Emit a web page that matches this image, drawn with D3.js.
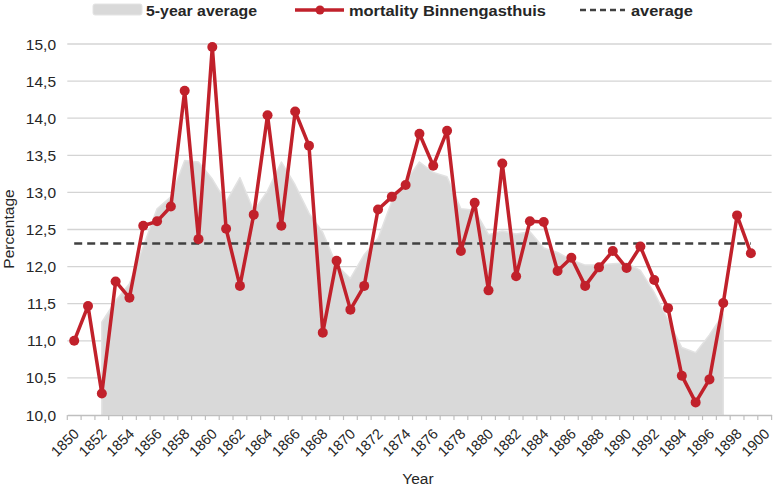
<!DOCTYPE html>
<html>
<head>
<meta charset="utf-8">
<script src="https://cdn.jsdelivr.net/npm/d3@7/dist/d3.min.js"></script>
<style>
  html, body { margin: 0; padding: 0; background: #ffffff; }
  svg { display: block; font-family: "Liberation Sans", Arial, sans-serif; }
</style>
</head>
<body>
<svg id="chart" width="774" height="488"></svg>
<script>
// ---- data ----
const categories = d3.range(1850, 1901);           // x categories (1850–1900)
const mortalityYears = d3.range(1850, 1900);       // years with data
const mortality = [11.00, 11.47, 10.29, 11.80, 11.58, 12.55, 12.61, 12.81, 14.37, 12.37,
                   14.96, 12.51, 11.74, 12.70, 14.04, 12.55, 14.09, 13.63, 11.11, 12.08,
                   11.42, 11.74, 12.77, 12.94, 13.10, 13.79, 13.36, 13.83, 12.21, 12.86,
                   11.68, 13.39, 11.87, 12.61, 12.60, 11.94, 12.12, 11.74, 11.99, 12.21,
                   11.98, 12.27, 11.82, 11.44, 10.53, 10.17, 10.48, 11.51, 12.69, 12.18];
const avgYears = d3.range(1852, 1898);
const fiveYearAvg = [11.25, 11.54, 11.77, 12.27, 12.78, 12.94, 13.43, 13.41, 13.18, 12.87,
                     13.20, 12.75, 13.02, 13.41, 13.10, 12.72, 12.46, 12.02, 11.84, 12.16,
                     12.38, 12.88, 13.15, 13.41, 13.27, 13.21, 12.78, 12.76, 12.43, 12.48,
                     12.44, 12.47, 12.25, 12.19, 12.09, 12.02, 12.02, 12.04, 12.05, 11.95,
                     11.65, 11.28, 10.91, 10.84, 11.08, 11.36];
const overallAverage = 12.31;
const yTicks = [10, 10.5, 11, 11.5, 12, 12.5, 13, 13.5, 14, 14.5, 15];
const xTickLabels = d3.range(1850, 1901, 2);
const legendLabels = ["5-year average", "mortality Binnengasthuis", "average"];

// ---- layout ----
const svg = d3.select("#chart");
const x = d3.scaleBand().domain(categories).range([67.3, 771.6]).padding(0);
const cx = d => x(d) + x.bandwidth() / 2;
const y = d3.scaleLinear().domain([10, 15]).range([415, 44]);
const fmt = v => d3.format(".1f")(v).replace(".", ",");

// gridlines
svg.append("g").selectAll("line").data(yTicks.filter(v => v > 10)).join("line")
  .attr("x1", 67.3).attr("x2", 771.6)
  .attr("y1", d => y(d)).attr("y2", d => y(d))
  .attr("stroke", "#d4d4d4").attr("stroke-width", 1.3);

// y labels
svg.append("g").selectAll("text").data(yTicks).join("text")
  .attr("x", 56).attr("y", d => y(d)).attr("dy", "0.36em")
  .attr("text-anchor", "end").attr("font-size", 15.5).attr("fill", "#262626")
  .text(fmt);

// 5-year average area
const area = d3.area()
  .x((d, i) => cx(avgYears[i]))
  .y0(y(10)).y1(d => y(d));
svg.append("path").datum(fiveYearAvg)
  .attr("d", area)
  .attr("fill", "#d9d9d9")
  .attr("stroke", "#e2e2e2").attr("stroke-width", 1.5).attr("stroke-linejoin", "round");

// x axis
const xAxis = d3.axisBottom(x).tickSize(0).tickFormat("");
const gx = svg.append("g").attr("transform", "translate(0,415)").call(xAxis);
gx.select(".domain").attr("stroke", "#bfbfbf").attr("stroke-width", 1.3);
svg.append("g").selectAll("line").data(d3.range(categories.length + 1)).join("line")
  .attr("x1", i => 67.3 + i * x.bandwidth()).attr("x2", i => 67.3 + i * x.bandwidth())
  .attr("y1", 415).attr("y2", 420)
  .attr("stroke", "#bfbfbf").attr("stroke-width", 1.2);
svg.append("g").selectAll("text").data(xTickLabels).join("text")
  .attr("text-anchor", "end").attr("font-size", 14.5).attr("fill", "#262626")
  .attr("transform", d => `translate(${cx(d) + 2},${431}) rotate(-45)`)
  .attr("dy", "0.36em")
  .text(d => d);

// average dashed line
svg.append("line")
  .attr("x1", cx(mortalityYears[0])).attr("x2", cx(mortalityYears[mortalityYears.length - 1]))
  .attr("y1", y(overallAverage)).attr("y2", y(overallAverage))
  .attr("stroke", "#404040").attr("stroke-width", 2.5).attr("stroke-dasharray", "8,5");

// mortality line
const line = d3.line().x((d, i) => cx(mortalityYears[i])).y(d => y(d));
svg.append("path").datum(mortality)
  .attr("d", line).attr("fill", "none")
  .attr("stroke", "#c1212b").attr("stroke-width", 3.5).attr("stroke-linejoin", "round");
svg.append("g").selectAll("circle").data(mortality).join("circle")
  .attr("cx", (d, i) => cx(mortalityYears[i])).attr("cy", d => y(d)).attr("r", 5)
  .attr("fill", "#c1212b");

// axis titles
svg.append("text").attr("x", 418).attr("y", 484).attr("text-anchor", "middle")
  .attr("font-size", 15.5).attr("fill", "#262626").text("Year");
svg.append("text").attr("transform", "translate(14,229) rotate(-90)")
  .attr("text-anchor", "middle").attr("font-size", 15.5).attr("fill", "#262626").text("Percentage");

// legend
const lg = svg.append("g");
lg.append("rect").attr("x", 93).attr("y", 4).attr("width", 49).attr("height", 11).attr("rx", 2)
  .attr("fill", "#d9d9d9").attr("stroke", "#e4e4e4");
lg.append("text").attr("x", 146).attr("y", 15.5).attr("font-size", 15).attr("font-weight", "bold")
  .attr("fill", "#262626").attr("textLength", 111).attr("lengthAdjust", "spacingAndGlyphs").text(legendLabels[0]);
lg.append("line").attr("x1", 295).attr("x2", 344).attr("y1", 10).attr("y2", 10)
  .attr("stroke", "#c1212b").attr("stroke-width", 3.5);
lg.append("circle").attr("cx", 320).attr("cy", 10).attr("r", 4.5).attr("fill", "#c1212b");
lg.append("text").attr("x", 349).attr("y", 15.5).attr("font-size", 15).attr("font-weight", "bold")
  .attr("fill", "#262626").attr("textLength", 197).attr("lengthAdjust", "spacingAndGlyphs").text(legendLabels[1]);
lg.append("line").attr("x1", 580).attr("x2", 625).attr("y1", 10).attr("y2", 10)
  .attr("stroke", "#404040").attr("stroke-width", 2.5).attr("stroke-dasharray", "6,4");
lg.append("text").attr("x", 631).attr("y", 15.5).attr("font-size", 15).attr("font-weight", "bold")
  .attr("fill", "#262626").attr("textLength", 62).attr("lengthAdjust", "spacingAndGlyphs").text(legendLabels[2]);
</script>
</body>
</html>
